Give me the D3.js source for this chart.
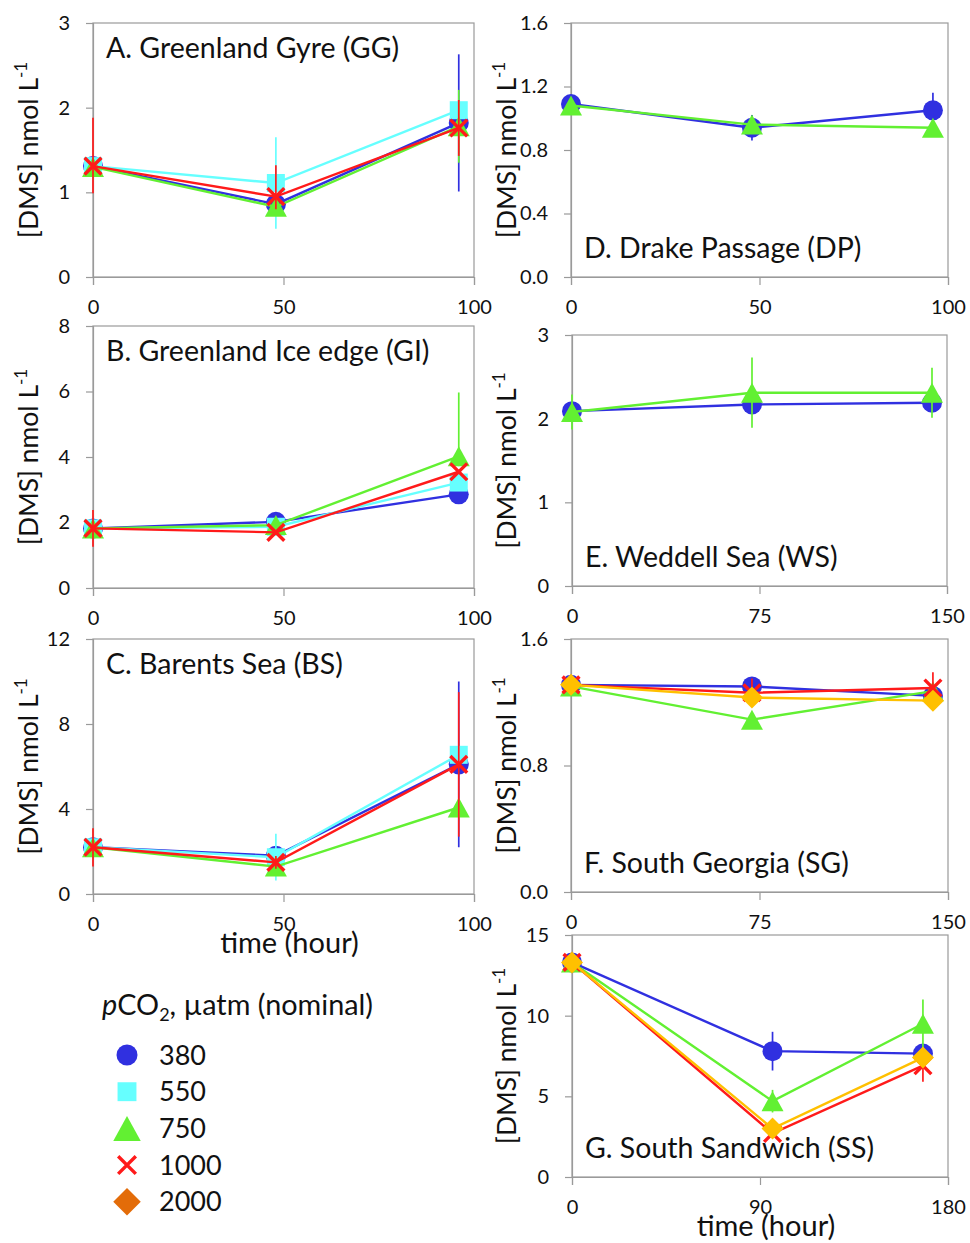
<!DOCTYPE html>
<html>
<head>
<meta charset="utf-8">
<script src="https://cdn.jsdelivr.net/npm/d3@7"></script>
<style>
  html, body { margin: 0; padding: 0; background: #fff; }
  svg { display: block; font-family: Lato, "Open Sans", sans-serif; }
</style>
</head>
<body>
<svg id="chart" width="970" height="1243"></svg>
<script>
// ---------------- DATA ----------------
const seriesNames = ["380", "550", "750", "1000", "2000"];
const seriesColors = ["#3030e0", "#66ffff", "#62f032", "#ff1a1a", "#ffc000"];
const legendColors = ["#3030e0", "#66ffff", "#62f032", "#ff1a1a", "#e36c09"];
const seriesShapes = ["circle", "square", "triangle", "x", "diamond"];

// error values: a number (symmetric) or [down, up]
// Panel A. Greenland Gyre
const timesA = [0, 48, 96];
const A380 = [1.31, 0.86, 1.82],  A380err = [0, 0, 0.81];
const A550 = [1.31, 1.11, 1.97],  A550err = [0, 0.54, 0];
const A750 = [1.30, 0.83, 1.78],  A750err = [0, 0, 0.43];
const A1000 = [1.31, 0.95, 1.76], A1000err = [[0.32, 0.57], [0.15, 0.37], 0.33];

// Panel B. Greenland Ice edge
const timesB = [0, 48, 96];
const B380 = [1.82, 2.02, 2.86],  B380err = [0, 0, 0];
const B550 = [1.82, 1.87, 3.22],  B550err = [0, 0, 0];
const B750 = [1.82, 1.92, 4.02],  B750err = [0, 0, [0.3, 1.95]];
const B1000 = [1.82, 1.70, 3.55], B1000err = [0.56, 0, 0];

// Panel C. Barents Sea
const timesC = [0, 48, 96];
const C380 = [2.2, 1.80, 6.10],  C380err = [0, 0, 3.9];
const C550 = [2.2, 1.73, 6.55],  C550err = [0, 1.1, 0];
const C750 = [2.2, 1.29, 4.07],  C750err = [0, 0, 0];
const C1000 = [2.2, 1.49, 6.10], C1000err = [0.9, 0.3, 3.4];

// Panel D. Drake Passage
const timesD = [0, 48, 96];
const D380 = [1.09, 0.94, 1.05], D380err = [0, 0.08, 0.11];
const D750 = [1.08, 0.96, 0.94], D750err = [0, 0, 0];

// Panel E. Weddell Sea
const timesE = [0, 72, 144];
const E380 = [2.09, 2.17, 2.19], E380err = [0, 0, 0];
const E750 = [2.08, 2.31, 2.31], E750err = [0.21, 0.42, 0.30];

// Panel F. South Georgia
const timesF = [0, 72, 144];
const F380 = [1.31, 1.30, 1.24],  F380err = [0, 0, 0];
const F750 = [1.30, 1.09, 1.27],  F750err = [0, 0, 0];
const F1000 = [1.31, 1.26, 1.29], F1000err = [0, 0.09, 0.10];
const F2000 = [1.31, 1.23, 1.21], F2000err = [0, 0, 0];

// Panel G. South Sandwich
const timesG = [0, 96, 168];
const G380 = [13.3, 7.8, 7.65],  G380err = [0, 1.2, 0];
const G750 = [13.3, 4.7, 9.5],   G750err = [0, 0.7, 1.5];
const G1000 = [13.3, 2.7, 6.9],  G1000err = [0, 0, 1.0];
const G2000 = [13.3, 3.0, 7.4],  G2000err = [0, 0, 0];

// tick labels
const yTicksA = [0, 1, 2, 3], yTicksB = [0, 2, 4, 6, 8], yTicksC = [0, 4, 8, 12];
const yTicksD = [0, 0.4, 0.8, 1.2, 1.6], yTicksE = [0, 1, 2, 3], yTicksF = [0, 0.8, 1.6], yTicksG = [0, 5, 10, 15];
const xTicks100 = [0, 50, 100], xTicks150 = [0, 75, 150], xTicks180 = [0, 90, 180];

const titles = {
  A: "A. Greenland Gyre (GG)", B: "B. Greenland Ice edge (GI)", C: "C. Barents Sea (BS)",
  D: "D. Drake Passage (DP)", E: "E. Weddell Sea (WS)", F: "F. South Georgia (SG)", G: "G. South Sandwich (SS)"
};

// --------------- PANEL CONFIG (built from arrays) ---------------
function errPair(e) { return Array.isArray(e) ? e : [e || 0, e || 0]; }
function mk(times, vals, errs) {
  return vals.map((v, i) => v ? { idx: i, pts: times.map((t, j) => {
    const [lo, hi] = errPair(errs[i] ? errs[i][j] : 0);
    return { t, v: v[j], lo, hi };
  }) } : null).filter(Boolean);
}
const panels = [
  { key: "A", box: [93, 23, 474, 277], x: [0, 100], xt: xTicks100, y: [0, 3], yt: yTicksA, fmt: d3.format("d"), tpos: "top",
    series: mk(timesA, [A380, A550, A750, A1000, null], [A380err, A550err, A750err, A1000err, null]) },
  { key: "B", box: [93, 326, 474, 588], x: [0, 100], xt: xTicks100, y: [0, 8], yt: yTicksB, fmt: d3.format("d"), tpos: "top",
    series: mk(timesB, [B380, B550, B750, B1000, null], [B380err, B550err, B750err, B1000err, null]) },
  { key: "C", box: [93, 639, 474, 894], x: [0, 100], xt: xTicks100, y: [0, 12], yt: yTicksC, fmt: d3.format("d"), tpos: "top", xlabel: true,
    series: mk(timesC, [C380, C550, C750, C1000, null], [C380err, C550err, C750err, C1000err, null]) },
  { key: "D", box: [571, 23, 948, 277], x: [0, 100], xt: xTicks100, y: [0, 1.6], yt: yTicksD, fmt: d3.format(".1f"), tpos: "bottom",
    series: mk(timesD, [D380, null, D750, null, null], [D380err, null, D750err, null, null]) },
  { key: "E", box: [572, 335, 947, 586], x: [0, 150], xt: xTicks150, y: [0, 3], yt: yTicksE, fmt: d3.format("d"), tpos: "bottom",
    series: mk(timesE, [E380, null, E750, null, null], [E380err, null, E750err, null, null]) },
  { key: "F", box: [571, 639, 948, 892], x: [0, 150], xt: xTicks150, y: [0, 1.6], yt: yTicksF, fmt: d3.format(".1f"), tpos: "bottom",
    series: mk(timesF, [F380, null, F750, F1000, F2000], [F380err, null, F750err, F1000err, F2000err]) },
  { key: "G", box: [572, 935, 948, 1177], x: [0, 180], xt: xTicks180, y: [0, 15], yt: yTicksG, fmt: d3.format("d"), tpos: "bottom", xlabel: true,
    series: mk(timesG, [G380, null, G750, G1000, G2000], [G380err, null, G750err, G1000err, G2000err]) }
];

// --------------- DRAW ---------------
const svg = d3.select("#chart");
const axisGray = "#9a9a9a";
const tickFont = 20;

function markerPath(shape, s) {
  const h = s / 2;
  switch (shape) {
    case "circle": return d3.symbol(d3.symbolCircle, Math.PI * h * h)();
    case "square": { const q = s * 0.45; return `M${-q},${-q}H${q}V${q}H${-q}Z`; }
    case "triangle": { const w = s * 0.55, hh = s * 0.5; return `M0,${-hh}L${w},${hh}L${-w},${hh}Z`; }
    case "diamond": { const q = s * 0.55; return `M0,${-q}L${q},0L0,${q}L${-q},0Z`; }
    case "x": { const q = s * 0.42; return `M${-q},${-q}L${q},${q}M${q},${-q}L${-q},${q}`; }
  }
}
function drawMarker(g, shape, color, x, y, s) {
  const p = g.append("path").attr("d", markerPath(shape, s)).attr("transform", `translate(${x},${y})`);
  if (shape === "x") p.attr("fill", "none").attr("stroke", color).attr("stroke-width", 3.4);
  else p.attr("fill", color).attr("stroke", "none");
}

panels.forEach(P => {
  const [x0, y0, x1, y1] = P.box;
  const xs = d3.scaleLinear().domain(P.x).range([x0, x1]);
  const ys = d3.scaleLinear().domain(P.y).range([y1, y0]);
  const g = svg.append("g");

  g.append("rect").attr("x", x0).attr("y", y0).attr("width", x1 - x0).attr("height", y1 - y0)
    .attr("fill", "none").attr("stroke", axisGray).attr("stroke-width", 1.2);

  const ya = g.append("g").attr("transform", `translate(${x0},0)`)
    .call(d3.axisLeft(ys).tickValues(P.yt).tickFormat(P.fmt).tickSize(7).tickPadding(16));
  ya.select(".domain").attr("stroke", axisGray).attr("stroke-width", 1.2);
  ya.selectAll(".tick line").attr("stroke", axisGray).attr("stroke-width", 1.2);
  ya.selectAll(".tick text").attr("font-size", tickFont).attr("font-family", "Lato").attr("fill", "#111");

  const xa = g.append("g").attr("transform", `translate(0,${y1})`)
    .call(d3.axisBottom(xs).tickValues(P.xt).tickFormat(d3.format("d")).tickSize(8).tickPadding(15));
  xa.select(".domain").attr("stroke", axisGray).attr("stroke-width", 1.2);
  xa.selectAll(".tick line").attr("stroke", axisGray).attr("stroke-width", 1.2);
  xa.selectAll(".tick text").attr("font-size", tickFont).attr("font-family", "Lato").attr("fill", "#111");

  const ycx = (P.key <= "C") ? 38 : 516;
  const yt = g.append("text").attr("transform", `translate(${ycx},${(y0 + y1) / 2}) rotate(-90)`)
    .attr("text-anchor", "middle").attr("font-size", 26.5).attr("fill", "#111");
  yt.append("tspan").text("[DMS] nmol L");
  yt.append("tspan").attr("font-size", 17).attr("dy", -11).text("-1");

  const ty = P.tpos === "top" ? y0 + 35 : y1 - 19;
  g.append("text").attr("x", x0 + 13).attr("y", ty).attr("font-size", 28.5).attr("fill", "#111").text(titles[P.key]);

  const line = d3.line().x(d => xs(d.t)).y(d => ys(d.v));
  P.series.forEach(S => {
    const c = seriesColors[S.idx];
    const sg = g.append("g");
    sg.append("path").datum(S.pts).attr("d", line).attr("fill", "none").attr("stroke", c).attr("stroke-width", 2.4);
    sg.selectAll("line.err").data(S.pts.filter(d => d.lo > 0 || d.hi > 0)).join("line")
      .attr("x1", d => xs(d.t)).attr("x2", d => xs(d.t))
      .attr("y1", d => ys(d.v - d.lo)).attr("y2", d => ys(d.v + d.hi))
      .attr("stroke", c).attr("stroke-width", 1.7);
    S.pts.forEach(d => drawMarker(sg, seriesShapes[S.idx], c, xs(d.t), ys(d.v), 20));
  });

  if (P.xlabel) {
    g.append("text").attr("x", (x0 + x1) / 2 + 6).attr("y", y1 + 59).attr("text-anchor", "middle")
      .attr("font-size", 29).attr("fill", "#111").text("time (hour)");
  }
});

// legend
const lg = svg.append("g");
const lt = lg.append("text").attr("x", 102).attr("y", 1015).attr("font-size", 28.8).attr("fill", "#111");
lt.append("tspan").attr("font-style", "italic").text("p");
lt.append("tspan").text("CO");
lt.append("tspan").attr("font-size", 18).attr("dy", 6).text("2");
lt.append("tspan").attr("dy", -6).text(", µatm (nominal)");

seriesNames.forEach((name, i) => {
  const cy = 1055 + i * 36.7;
  drawMarker(lg, seriesShapes[i], legendColors[i], 127, cy, i === 2 || i === 4 ? 25 : 21);
  lg.append("text").attr("x", 159).attr("y", cy + 9.5).attr("font-size", 27).attr("fill", "#111").text(name);
});
</script>
</body>
</html>
